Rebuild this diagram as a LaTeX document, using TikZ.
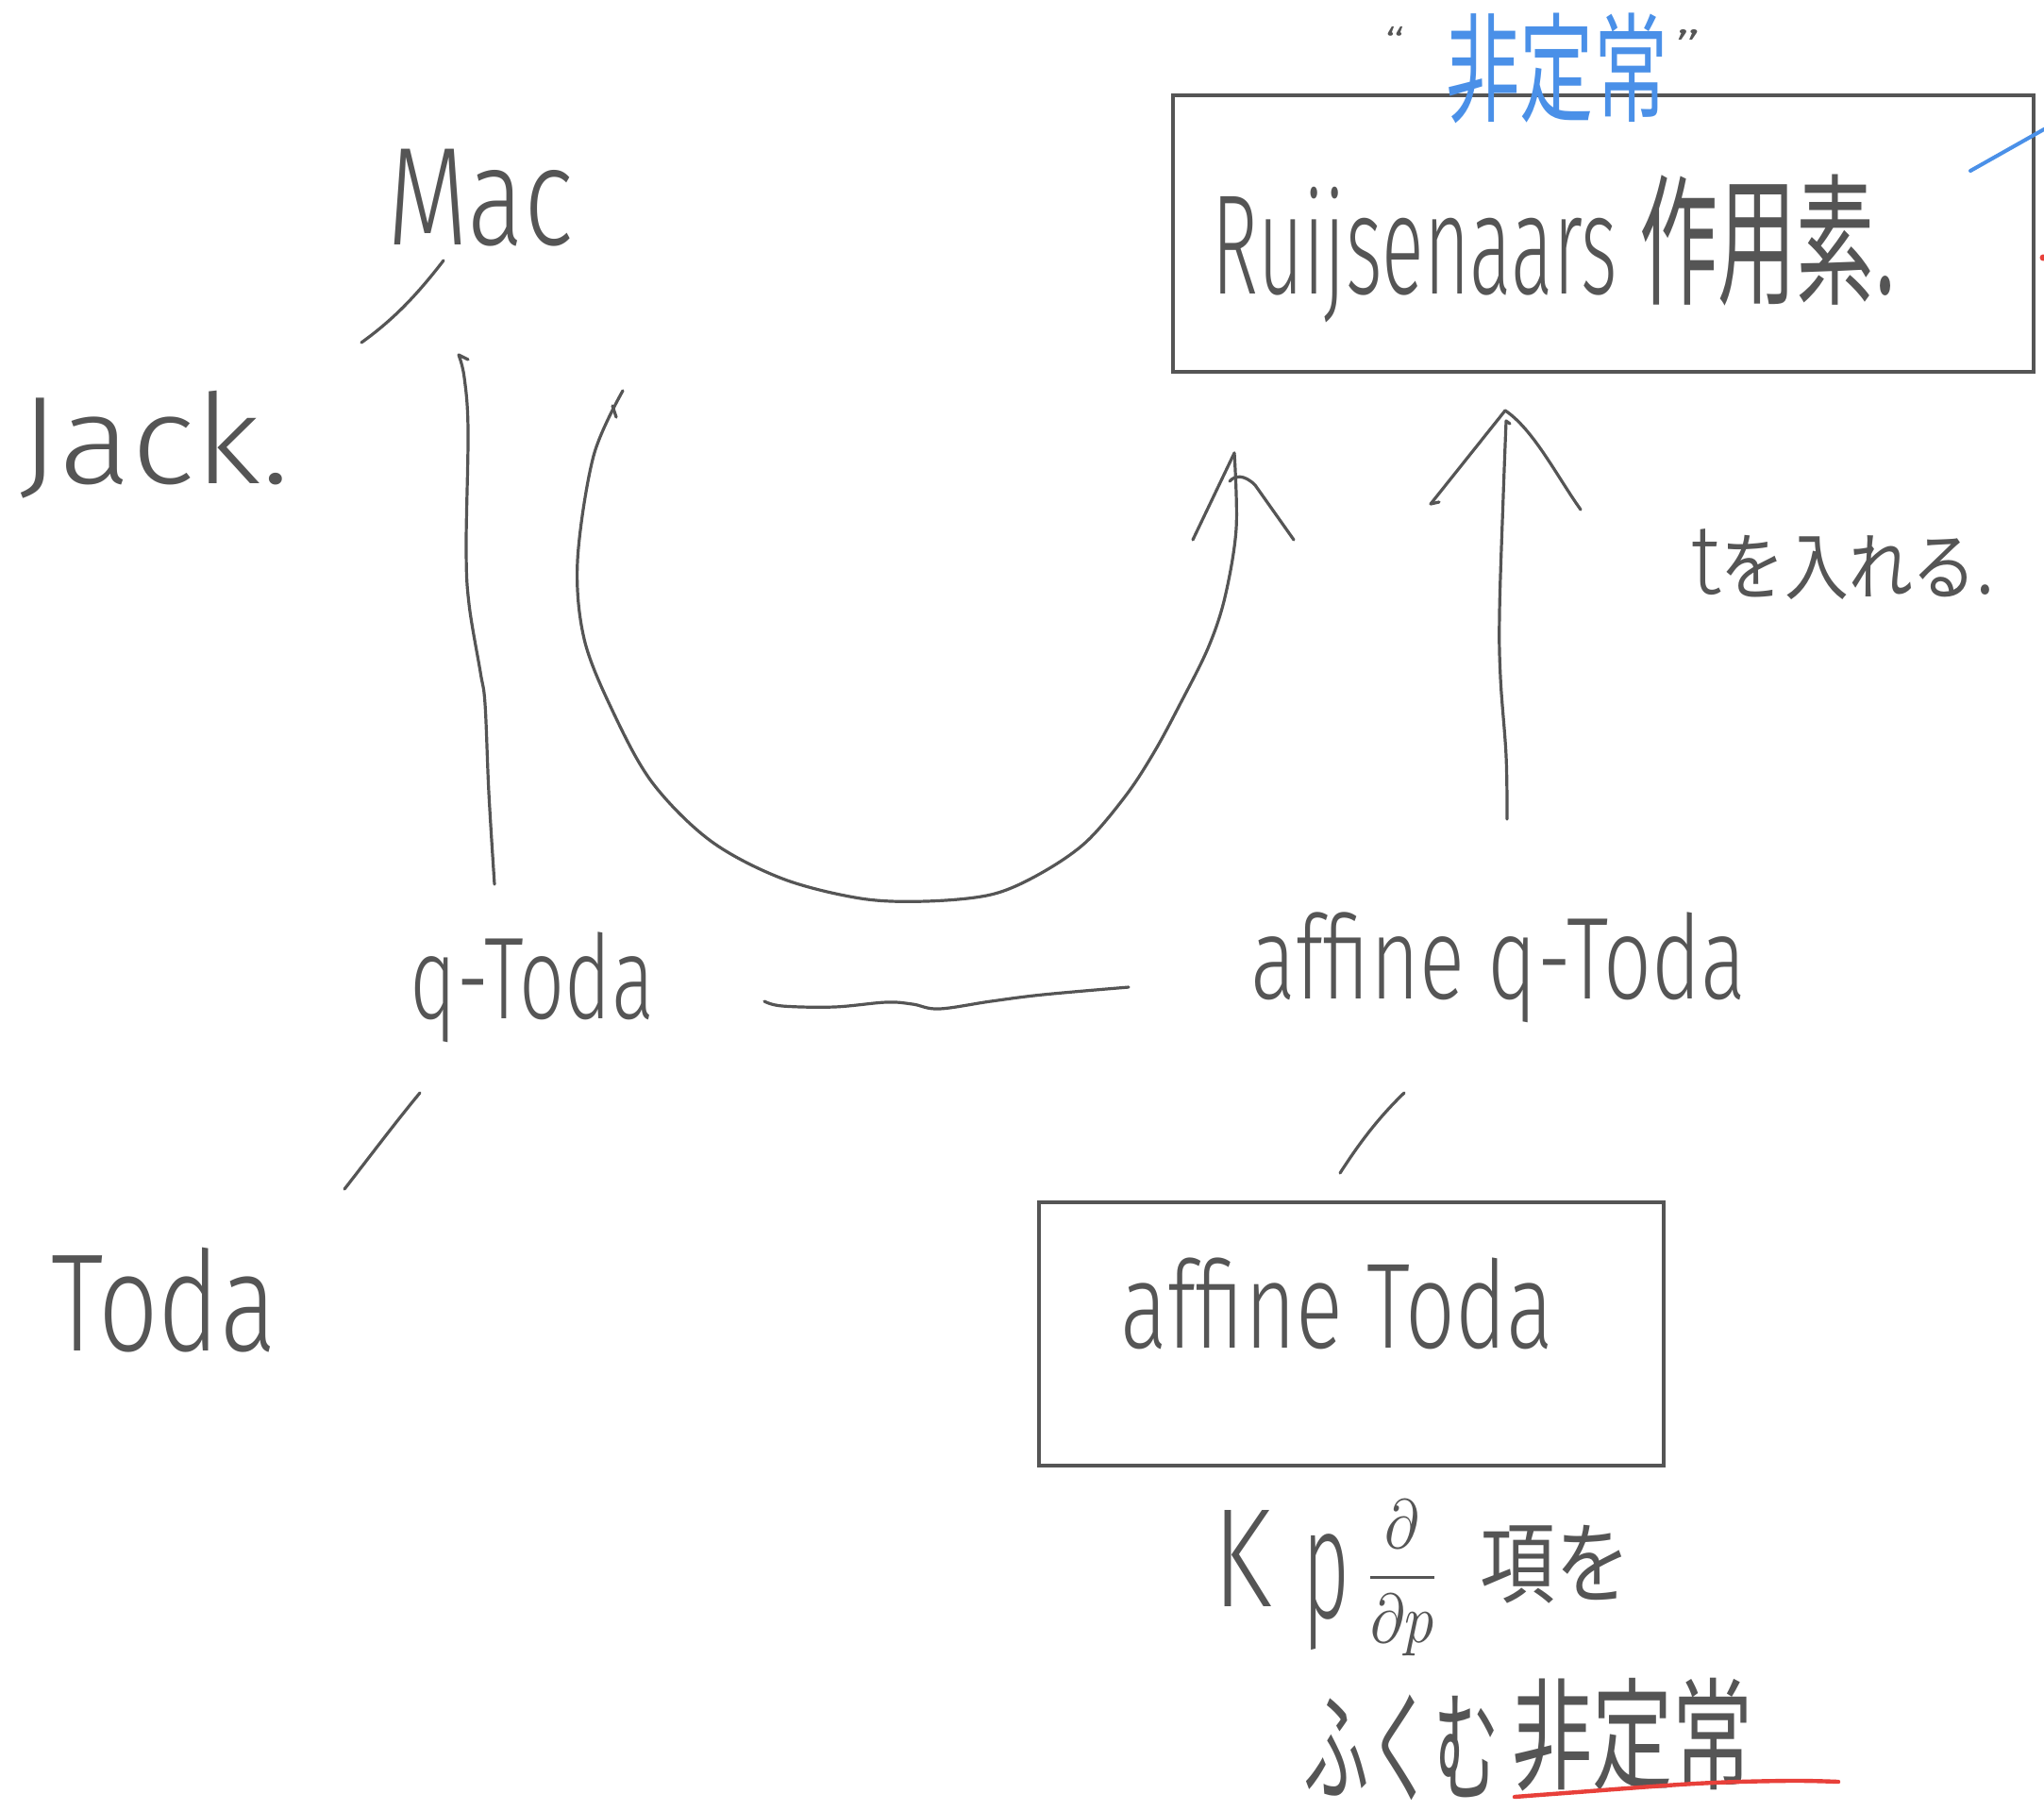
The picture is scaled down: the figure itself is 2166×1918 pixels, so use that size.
\documentclass[tikz,border=0pt]{standalone}
\usepackage{graphicx}
\usepackage{fontspec}
\setmainfont{Noto Sans CJK JP}
\newfontfamily\latin{Fira Sans Light}
\usetikzlibrary{arrows.meta}
\definecolor{inkc}{HTML}{555555}
\definecolor{bluec}{HTML}{4A90E8}
\definecolor{redc}{HTML}{E8403A}
\newcommand{\fitto}[3]{\resizebox*{#1pt}{#2pt}{#3}}
\tikzset{
  ink/.style={draw=inkc, line width=1.6pt, line cap=round, line join=round},
  txt/.style={inner sep=0pt, outer sep=0pt, text=inkc},
  framebox/.style={draw=inkc, line width=1.8pt, inner sep=0pt, outer sep=0pt, rectangle}
}
\begin{document}
\begin{tikzpicture}[x=0.5pt,y=-0.5pt]
\useasboundingbox[fill=white] (0,0) rectangle (2166,1918);

% boxes
\node[framebox, minimum width=456pt, minimum height=146.5pt] (rbox) at (1699,247.5) {};
\node[framebox, minimum width=331pt, minimum height=139.5pt] (atbox) at (1432,1413.5) {};

% texts
\node[txt] (mac) at (509,210) {\fitto{99}{51.5}{\latin Mac}};
\node[txt] (jack) at (164,471) {\fitto{143}{57}{\latin Jack.}};
\node[txt] (qtoda) at (564,1046) {\fitto{129}{58.5}{\latin q-Toda}};
\node[txt] (toda) at (174,1378) {\fitto{119}{55.5}{\latin Toda}};
\node[txt] (aqtoda) at (1588,1025) {\fitto{262.5}{58.5}{\latin affine q-Toda}};
\node[txt] (atoda) at (1417,1381) {\fitto{229.5}{48.5}{\latin affine Toda}};
\node[txt] (ruij) at (1647,264) {\fitto{362.5}{78.5}{\latin Ruijsenaars \normalfont 作用素.}};
\node[txt] (tire) at (1953,598) {\fitto{160.5}{37.5}{{\latin\scalebox{1.35}{t}}\normalfont を入れる.}};
\node[txt, text=bluec] (hitei) at (1650,72) {\fitto{117.5}{58.5}{非定常}};
\node[txt] (ql) at (1478,45) {\fitto{11}{17}{\latin “}};
\node[txt] (qr) at (1789,50) {\fitto{14}{19}{\latin ”}};
\node[txt] (kk) at (1316,1651) {\fitto{31}{51}{\latin K}};
\node[txt] (pp) at (1405,1687) {\fitto{25}{61.5}{\latin p}};
\node[txt] (frac) at (1486,1672) {\fitto{41}{82.5}{$\displaystyle\frac{\partial}{\partial p}$}};
\node[txt] (kou) at (1648,1658) {\fitto{79.5}{41.5}{項を}};
\node[txt] (fukumu) at (1485,1852) {\fitto{104}{56}{ふくむ}};
\node[txt] (hitei2) at (1730,1838) {\fitto{128}{60}{非定常}};

% coordinates for free-hand connectors
\coordinate (mj1) at (470,276);
\coordinate (mj2) at (383,363);
\coordinate (qm1) at (524,937);
\coordinate (qm2) at (486,376);
\coordinate (cs) at (660,414);
\coordinate (ce) at (1308,480);
\coordinate (ss) at (1597,868);
\coordinate (se) at (1596,446);
\coordinate (sa) at (1595,435);
\coordinate (hw1) at (810,1061);
\coordinate (hw2) at (1196,1046);
\coordinate (tq1) at (445,1158);
\coordinate (tq2) at (365,1260);
\coordinate (aa1) at (1488,1158);
\coordinate (aa2) at (1420,1243);
\coordinate (b1) at (2088,181);
\coordinate (b2) at (2166,137);
\coordinate (ru1) at (1605,1904);
\coordinate (ru2) at (1948,1888);

% Mac -- Jack
\draw[ink] (mj1) .. controls (440,315) and (415,340) .. (mj2);
% q-Toda -- Toda
\draw[ink] (tq1) .. controls (420,1188) and (390,1228) .. (tq2);
% affine q-Toda -- affine Toda
\draw[ink] (aa1) .. controls (1460,1185) and (1440,1212) .. (aa2);
% q-Toda -- Mac (wavy vertical)
\draw[ink] plot[smooth, tension=0.6] coordinates {(qm1) (518,840) (514,746) (509,712) (497,640) (494,580) (496,456) (492,400) (qm2)} -- (496,381);
% q-Toda -- affine q-Toda (wavy horizontal)
\draw[ink] plot[smooth, tension=0.6] coordinates {(hw1) (829,1066) (884,1067) (939,1062) (967,1064) (995,1069) (1050,1061) (1105,1054) (hw2)};
% big curved arrow
\draw[ink] (649,430) -- (653,442);
\draw[ink] plot[smooth, tension=0.55] coordinates {(cs) (629,483) (612,594) (619,677) (649,753) (691,829) (753,891) (829,931) (912,952) (981,955) (1050,948) (1100,927) (1150,893) (1193,843) (1223,797) (1250,747) (1280,687) (1298,633) (1310,560) (ce)};
\draw[ink] (ce) -- (1264,572);
\draw[ink] (1303,510) .. controls (1308,504) and (1318,502) .. (1330,514) -- (1371,572);
% straight arrow
\draw[ink] plot[smooth, tension=0.6] coordinates {(ss) (1596,801) (1590,718) (1589,649) (1593,525) (se)} -- (1600,449);
\draw[ink] (sa) -- (1516,534) -- (1525,532);
\draw[ink] (sa) .. controls (1625,455) and (1650,505) .. (1675,540);
% blue stroke at right
\draw[ink, draw=bluec, line width=2pt] (b1) -- (b2);
\fill[redc] (2165,273) circle (3.5);
% red underline
\draw[ink, draw=redc, line width=2.2pt] plot[smooth, tension=0.6] coordinates {(ru1) (1658,1900) (1796,1890) (1893,1887) (ru2)};
\end{tikzpicture}
\end{document}
